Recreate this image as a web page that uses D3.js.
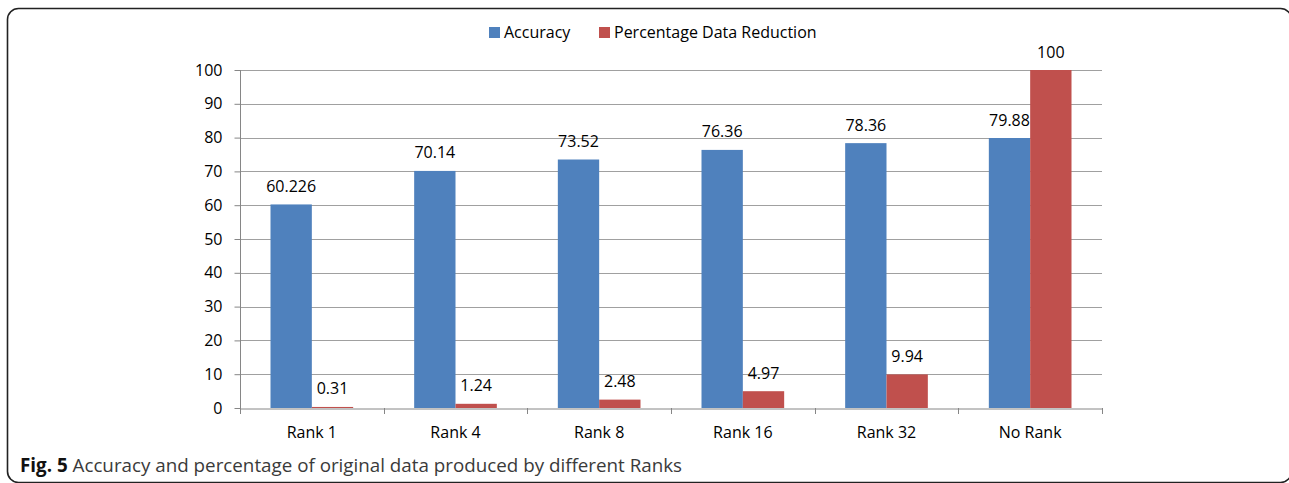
<!DOCTYPE html>
<html>
<head>
<meta charset="utf-8">
<script src="https://cdn.jsdelivr.net/npm/d3@7"></script>
<style>
  body { margin: 0; background: #fff; }
  svg text { font-family: "Open Sans", sans-serif; fill: #000; }
</style>
</head>
<body>
<div id="chart"></div>
<script>
// data
var categories = ["Rank 1", "Rank 4", "Rank 8", "Rank 16", "Rank 32", "No Rank"];
var accuracy = [60.226, 70.14, 73.52, 76.36, 78.36, 79.88];
var reduction = [0.31, 1.24, 2.48, 4.97, 9.94, 100];
var seriesNames = ["Accuracy", "Percentage Data Reduction"];
var yTicks = [0, 10, 20, 30, 40, 50, 60, 70, 80, 90, 100];

var W = 1289, H = 483;
var margin = {top: 70, right: 187, bottom: 75, left: 240},
    width = W - margin.left - margin.right,
    height = H - margin.top - margin.bottom;

var svg = d3.select("#chart")
  .append("svg")
    .attr("width", W)
    .attr("height", H);

// rounded frame (right edge sits just past the page border, only its corner shows)
svg.append("rect")
  .attr("x", 7.5).attr("y", 8.5)
  .attr("width", 1284).attr("height", 474)
  .attr("rx", 11).attr("ry", 11)
  .attr("fill", "none")
  .attr("stroke", "#222")
  .attr("stroke-width", 1.6);

var g = svg.append("g")
  .attr("transform", "translate(" + margin.left + "," + margin.top + ")");

var color = d3.scaleOrdinal().domain(seriesNames).range(["#4f81bd", "#c0504d"]);

var x = d3.scaleBand()
  .domain(categories)
  .range([0, width])
  .paddingInner(0)
  .paddingOuter(0);

var xSub = d3.scaleBand()
  .domain(seriesNames)
  .range([30.5, x.bandwidth() - 30.5]);

var y = d3.scaleLinear()
  .domain([0, 100])
  .range([height, 0]);

// gridlines
g.append("g")
  .selectAll("line")
  .data(yTicks.filter(function(d) { return d > 0; }))
  .enter().append("line")
    .attr("x1", 0).attr("x2", width)
    .attr("y1", function(d) { return Math.round(y(d)) + 0.5; })
    .attr("y2", function(d) { return Math.round(y(d)) + 0.5; })
    .attr("stroke", "#a0a0a0")
    .attr("stroke-width", 1);

// y axis
var yAxis = g.append("g")
  .attr("transform", "translate(0.5,0)")
  .call(d3.axisLeft(y).tickValues(yTicks).tickSize(6).tickPadding(12));
yAxis.select(".domain").attr("stroke", "#868686").attr("d", "M0," + height + "V0");
yAxis.selectAll(".tick line").attr("stroke", "#868686");
yAxis.selectAll("text").style("font-size", "16px").attr("fill", "#000");

// bars
var rows = categories.map(function(c, i) {
  return {cat: c, values: [
    {key: seriesNames[0], value: accuracy[i]},
    {key: seriesNames[1], value: reduction[i]}
  ]};
});

var groups = g.append("g")
  .selectAll("g")
  .data(rows)
  .enter().append("g")
    .attr("transform", function(d) { return "translate(" + x(d.cat) + ",0)"; });

groups.selectAll("rect")
  .data(function(d) { return d.values; })
  .enter().append("rect")
    .attr("x", function(d) { return xSub(d.key); })
    .attr("y", function(d) { return y(d.value); })
    .attr("width", xSub.bandwidth())
    .attr("height", function(d) { return height - y(d.value); })
    .attr("fill", function(d) { return color(d.key); });

groups.selectAll("text.lbl")
  .data(function(d) { return d.values; })
  .enter().append("text")
    .attr("class", "lbl")
    .attr("x", function(d) { return xSub(d.key) + xSub.bandwidth() / 2; })
    .attr("y", function(d) { return y(d.value) - 12.5; })
    .attr("text-anchor", "middle")
    .style("font-size", "16px")
    .text(function(d) { return d.value; });

// x axis
var xAxis = g.append("g")
  .attr("transform", "translate(0," + (height + 0.5) + ")")
  .call(d3.axisBottom(x).tickSize(0).tickPadding(18));
xAxis.select(".domain").attr("stroke", "#868686");
xAxis.selectAll("text").style("font-size", "16px").attr("fill", "#000");

// category separators on x axis
g.append("g")
  .selectAll("line")
  .data(d3.range(categories.length + 1))
  .enter().append("line")
    .attr("x1", function(i) { return Math.round(i * x.step()) + 0.5; })
    .attr("x2", function(i) { return Math.round(i * x.step()) + 0.5; })
    .attr("y1", height)
    .attr("y2", height + 6)
    .attr("stroke", "#868686");

// legend
var legendX = [489, 599];
var legend = svg.append("g").selectAll("g")
  .data(seriesNames)
  .enter().append("g")
    .attr("transform", function(d, i) { return "translate(" + legendX[i] + ",27)"; });
legend.append("rect")
  .attr("width", 11).attr("height", 11)
  .attr("fill", function(d) { return color(d); });
legend.append("text")
  .attr("x", 15).attr("y", 11)
  .style("font-size", "16px")
  .text(function(d) { return d; });

// caption
var cap = svg.append("text")
  .attr("x", 20).attr("y", 472)
  .style("font-size", "18.8px");
cap.append("tspan").style("font-weight", "bold").attr("fill", "#111").text("Fig. 5");
cap.append("tspan").attr("fill", "#3a3a3a").text(" Accuracy and percentage of original data produced by different Ranks");
</script>
</body>
</html>
